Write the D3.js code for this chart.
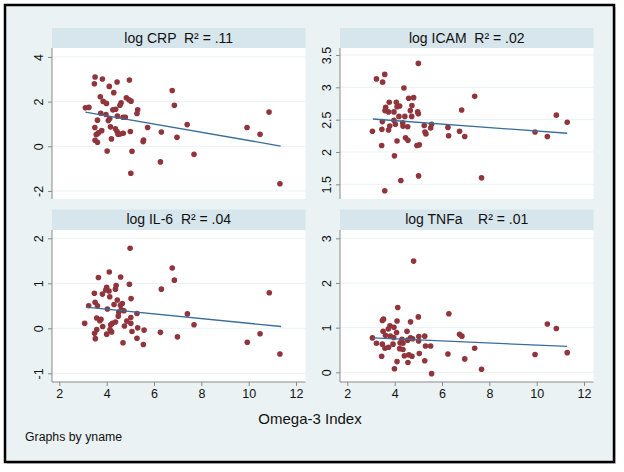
<!DOCTYPE html>
<html>
<head>
<meta charset="utf-8">
<script src="https://cdn.jsdelivr.net/npm/d3@7"></script>
<style>
html,body{margin:0;padding:0;background:#fff;}
svg text{font-family:"Liberation Sans",Arial,Helvetica,sans-serif;}
</style>
</head>
<body>
<svg id="chart" width="624" height="472"></svg>
<script>
// ---- data ----
const panelTitles = ["log CRP  R\u00B2 = .11", "log ICAM  R\u00B2 = .02", "log IL-6  R\u00B2 = .04", "log TNFa    R\u00B2 = .01"];
const xTicks = [2, 4, 6, 8, 10, 12];
const xLabel = "Omega-3 Index";
const noteText = "Graphs by yname";

const crpTicks = [-2, 0, 2, 4];
const icamTicks = [1.5, 2, 2.5, 3, 3.5];
const il6Ticks = [-1, 0, 1, 2];
const tnfaTicks = [0, 1, 2, 3];

const crpPoints = [[3.51,3.10],[3.48,2.80],[3.82,3.01],[4.11,2.68],[4.44,2.88],[4.96,2.97],[4.30,2.40],[3.73,2.22],[3.85,2.01],[3.99,1.92],[4.61,1.95],[4.56,1.84],[4.83,2.17],[5.03,2.02],[4.94,2.08],[3.10,1.72],[3.25,1.74],[4.26,1.63],[4.38,1.66],[5.31,1.63],[5.28,1.47],[3.75,1.48],[3.97,1.42],[4.13,1.24],[4.07,1.15],[4.45,1.35],[4.69,1.30],[4.79,1.30],[3.61,1.17],[4.16,0.87],[3.50,0.84],[4.37,0.78],[3.79,0.70],[3.65,0.60],[3.56,0.52],[4.44,0.66],[4.56,0.55],[4.70,0.58],[4.48,0.54],[5.00,0.66],[5.73,0.84],[6.31,0.64],[7.40,0.97],[6.97,0.40],[3.51,0.27],[3.61,0.18],[4.20,0.33],[5.56,0.28],[5.54,0.21],[4.02,-0.21],[5.07,-0.22],[6.27,-0.70],[7.69,-0.36],[5.02,-1.21],[6.77,2.50],[6.86,1.84],[9.93,0.84],[10.48,0.54],[10.86,1.53],[11.32,-1.68]];
const icamPoints = [[5.00,3.37],[3.23,3.13],[3.58,3.20],[3.49,3.08],[4.39,2.99],[4.59,2.83],[4.80,2.84],[3.77,2.77],[4.07,2.77],[4.21,2.71],[4.10,2.70],[3.62,2.69],[3.59,2.64],[3.74,2.62],[3.97,2.62],[4.73,2.72],[4.66,2.64],[4.97,2.62],[5.00,2.59],[4.18,2.55],[4.43,2.55],[4.72,2.55],[3.97,2.49],[3.48,2.47],[3.79,2.40],[3.74,2.34],[3.46,2.35],[4.03,2.43],[4.35,2.40],[4.55,2.39],[4.34,2.45],[3.06,2.32],[5.25,2.41],[5.28,2.31],[5.32,2.28],[5.56,2.43],[5.52,2.37],[6.25,2.38],[6.28,2.25],[6.74,2.32],[6.96,2.24],[6.83,2.65],[7.38,2.86],[3.45,2.10],[4.10,2.17],[4.46,2.22],[4.56,2.18],[4.94,2.10],[5.04,2.11],[3.99,1.94],[4.26,1.56],[5.01,1.63],[3.58,1.40],[7.67,1.60],[9.93,2.31],[10.45,2.24],[10.83,2.57],[11.29,2.46]];
const il6Points = [[4.99,1.78],[4.11,1.25],[3.65,1.13],[4.59,1.14],[6.77,1.34],[6.86,1.07],[4.96,0.98],[6.31,0.87],[4.40,0.95],[4.37,0.87],[4.00,0.91],[4.10,0.83],[3.96,0.85],[3.48,0.78],[3.82,0.76],[4.13,0.70],[5.03,0.66],[3.51,0.58],[3.61,0.50],[3.24,0.50],[4.03,0.43],[4.45,0.63],[4.31,0.53],[4.66,0.55],[4.58,0.51],[4.51,0.36],[4.62,0.41],[4.73,0.39],[4.49,0.27],[5.28,0.33],[7.41,0.32],[7.69,0.08],[3.58,0.23],[3.71,0.17],[3.76,0.20],[3.07,0.11],[3.83,0.04],[4.24,0.11],[4.37,0.14],[4.17,0.08],[5.02,0.24],[4.85,0.16],[5.02,0.11],[4.75,0.05],[5.31,0.01],[5.58,-0.04],[5.07,-0.07],[3.58,-0.03],[3.49,-0.11],[3.52,-0.23],[4.14,-0.03],[4.21,-0.08],[4.00,-0.13],[5.28,-0.22],[4.69,-0.32],[5.55,-0.36],[6.27,-0.09],[6.99,-0.19],[9.94,-0.31],[10.48,-0.12],[10.87,0.79],[11.32,-0.57]];
const tnfaPoints = [[4.80,2.49],[4.13,1.45],[6.29,1.31],[5.00,1.24],[3.53,1.19],[3.48,1.16],[4.10,1.15],[4.67,1.13],[3.80,1.04],[3.97,1.01],[3.73,0.97],[3.51,0.92],[4.08,0.89],[4.52,0.92],[3.61,0.83],[3.82,0.81],[3.96,0.78],[3.06,0.77],[4.67,0.77],[4.76,0.75],[5.02,0.80],[5.01,0.70],[5.27,0.81],[4.31,0.74],[4.55,0.72],[4.23,0.66],[4.35,0.65],[3.23,0.65],[3.48,0.63],[3.59,0.54],[3.74,0.56],[3.93,0.63],[4.21,0.53],[4.35,0.51],[4.41,0.37],[4.60,0.39],[4.73,0.36],[5.04,0.42],[5.30,0.59],[5.52,0.59],[3.45,0.36],[6.25,0.41],[6.74,0.85],[6.84,0.81],[7.38,0.54],[6.96,0.30],[4.10,0.24],[4.56,0.22],[5.27,0.26],[3.99,0.08],[5.56,-0.03],[7.67,0.07],[9.93,0.40],[10.45,1.08],[10.83,0.98],[11.29,0.44]];

const crpFit = [[3.10,1.53],[11.35,0.01]];
const icamFit = [[3.08,2.51],[11.29,2.29]];
const il6Fit = [[3.12,0.47],[11.37,0.04]];
const tnfaFit = [[3.08,0.77],[11.29,0.58]];

// ---- layout ----
const svg = d3.select("#chart");
const colBg = "#eaf2f3", colStrip = "#d7e5ec", colMarker = "#90353b", colLine = "#3a6d9a";

// outer frame with shadow
svg.append("rect").attr("x", 7).attr("y", 7).attr("width", 609).attr("height", 457)
  .attr("fill", "#bbb").attr("opacity", 0.6);
svg.append("rect").attr("x", 5).attr("y", 5).attr("width", 609).attr("height", 457)
  .attr("fill", colBg).attr("stroke", "#000").attr("stroke-width", 2.5);

const plotW = 253.5;
const panels = [
  {title: panelTitles[0], pts: crpPoints, fit: crpFit, ticks: crpTicks, dom: [-2.36, 4.40], left: 52, top: 48, h: 151, stripTop: 28, xaxis: false},
  {title: panelTitles[1], pts: icamPoints, fit: icamFit, ticks: icamTicks, dom: [1.273, 3.608], left: 340, top: 48, h: 151, stripTop: 28, xaxis: false},
  {title: panelTitles[2], pts: il6Points, fit: il6Fit, ticks: il6Ticks, dom: [-1.193, 2.184], left: 52, top: 230, h: 152, stripTop: 209.5, xaxis: true},
  {title: panelTitles[3], pts: tnfaPoints, fit: tnfaFit, ticks: tnfaTicks, dom: [-0.217, 3.186], left: 340, top: 230, h: 152, stripTop: 209.5, xaxis: true}
];

panels.forEach(p => {
  const x = d3.scaleLinear().domain([1.69, 12.40]).range([p.left, p.left + plotW]);
  const y = d3.scaleLinear().domain(p.dom).range([p.top + p.h, p.top]);
  const g = svg.append("g");

  // title strip
  g.append("rect").attr("x", p.left).attr("y", p.stripTop).attr("width", plotW)
    .attr("height", p.top - p.stripTop).attr("fill", colStrip);
  g.append("text").attr("x", p.left + plotW / 2).attr("y", p.stripTop + 14.5)
    .attr("text-anchor", "middle").attr("font-size", 14).attr("fill", "#111")
    .style("white-space", "pre").text(p.title);

  // plot region
  g.append("rect").attr("x", p.left).attr("y", p.top).attr("width", plotW)
    .attr("height", p.h).attr("fill", "#fff");

  // gridlines
  g.selectAll(".grid").data(p.ticks).join("line")
    .attr("x1", p.left).attr("x2", p.left + plotW)
    .attr("y1", d => y(d)).attr("y2", d => y(d))
    .attr("stroke", "#eaf2f3").attr("stroke-width", 1);

  // y axis
  const yAxis = d3.axisLeft(y).tickValues(p.ticks).tickSize(4).tickPadding(0).tickFormat(d => String(d));
  const ya = g.append("g").attr("transform", `translate(${p.left},0)`).call(yAxis);
  ya.select(".domain").attr("stroke", "#8a8a8a").attr("d", `M0,${p.top}V${p.top + p.h}`);
  ya.selectAll(".tick line").attr("stroke", "#8a8a8a");
  ya.selectAll(".tick text")
    .attr("font-size", 12.5).attr("fill", "#111")
    .attr("font-family", "'Liberation Sans',Arial,sans-serif")
    .attr("text-anchor", "middle").attr("dy", null)
    .attr("x", null).attr("transform", "translate(-9.5,0) rotate(-90)");

  // x axis
  if (p.xaxis) {
    const xAxis = d3.axisBottom(x).tickValues(xTicks).tickSize(4).tickPadding(3);
    const xa = g.append("g").attr("transform", `translate(0,${p.top + p.h})`).call(xAxis);
    xa.select(".domain").attr("stroke", "#8a8a8a").attr("d", `M${p.left},0H${p.left + plotW}`);
    xa.selectAll(".tick line").attr("stroke", "#8a8a8a");
    xa.selectAll(".tick text").attr("font-size", 12.5).attr("fill", "#111")
      .attr("font-family", "'Liberation Sans',Arial,sans-serif");
  }

  // points
  g.selectAll(".pt").data(p.pts).join("circle")
    .attr("cx", d => x(d[0])).attr("cy", d => y(d[1])).attr("r", 2.8)
    .attr("fill", colMarker);

  // fitted line
  g.append("path").datum(p.fit)
    .attr("d", d3.line().x(d => x(d[0])).y(d => y(d[1])))
    .attr("fill", "none").attr("stroke", colLine).attr("stroke-width", 1.3);
});

svg.append("text").attr("x", 310).attr("y", 424).attr("text-anchor", "middle")
  .attr("font-size", 15).attr("fill", "#111").text(xLabel);
svg.append("text").attr("x", 25).attr("y", 440.5).attr("font-size", 12.3)
  .attr("fill", "#111").text(noteText);
</script>
</body>
</html>
